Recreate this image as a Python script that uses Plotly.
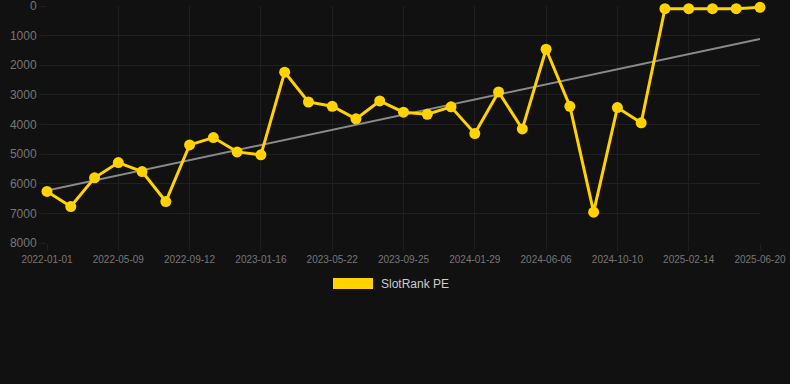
import plotly.graph_objects as go

# Data
tick_labels = ["2022-01-01", "2022-05-09", "2022-09-12", "2023-01-16", "2023-05-22",
               "2023-09-25", "2024-01-29", "2024-06-06", "2024-10-10", "2025-02-14",
               "2025-06-20"]
rank_values = [6260, 6770, 5800, 5285, 5590, 6600, 4690, 4440, 4925, 5025,
               2235, 3240, 3385, 3810, 3205, 3585, 3655, 3405, 4305, 2900,
               4150, 1460, 3385, 6960, 3430, 3945, 90, 90, 90, 90, 45]
trend_values = [6230, 1110]
series_name = "SlotRank PE"

x_idx = list(range(len(rank_values)))
tick_pos = x_idx[::3]

BG = "#111111"
GRID = "#1f1f1f"
GOLD = "#FFD200"

fig = go.Figure()
fig.add_trace(go.Scatter(
    x=[x_idx[0], x_idx[-1]], y=trend_values, mode="lines",
    line=dict(color="#8a8a8a", width=2), showlegend=False, hoverinfo="skip"))
fig.add_trace(go.Scatter(
    x=x_idx, y=rank_values, mode="lines+markers", name=series_name,
    line=dict(color=GOLD, width=3), marker=dict(color=GOLD, size=11),
    cliponaxis=False, showlegend=False))

fig.update_layout(
    width=790, height=384,
    paper_bgcolor=BG, plot_bgcolor=BG,
    margin=dict(l=47, r=30, t=6, b=141),
    font=dict(family="Liberation Sans, Arial, sans-serif", color="#777777"),
    xaxis=dict(range=[0, len(rank_values) - 1], tickmode="array", tickvals=tick_pos,
               ticktext=tick_labels, showgrid=True, gridcolor=GRID, zeroline=False,
               ticks="outside", ticklen=7, tickcolor=GRID, tickfont=dict(size=10, color="#777777"),
               showline=False, ticklabeloverflow="allow", automargin=False),
    yaxis=dict(range=[8000, 0], tickmode="array", tickvals=list(range(0, 8001, 1000)),
               showgrid=True, gridcolor=GRID, zeroline=False, ticks="outside", ticklen=7,
               tickcolor=GRID, tickfont=dict(size=12, color="#777777"), showline=False,
               ticklabeloverflow="allow", automargin=False),
    shapes=[dict(type="rect", xref="paper", yref="paper",
                 x0=(333 - 47) / 713, x1=(373 - 47) / 713,
                 y0=(243 - 289) / 237, y1=(243 - 278) / 237,
                 fillcolor=GOLD, line=dict(width=0))],
    annotations=[dict(text=series_name, xref="paper", yref="paper",
                      x=(379 - 47) / 713, y=(243 - 284) / 237, xanchor="left", yanchor="middle",
                      showarrow=False, font=dict(size=12, color="#cccccc"))],
    showlegend=False,
)

fig.write_html("out.html", config={"displayModeBar": False},
               post_script="document.body.style.margin='0';document.body.style.background='#111111';")
